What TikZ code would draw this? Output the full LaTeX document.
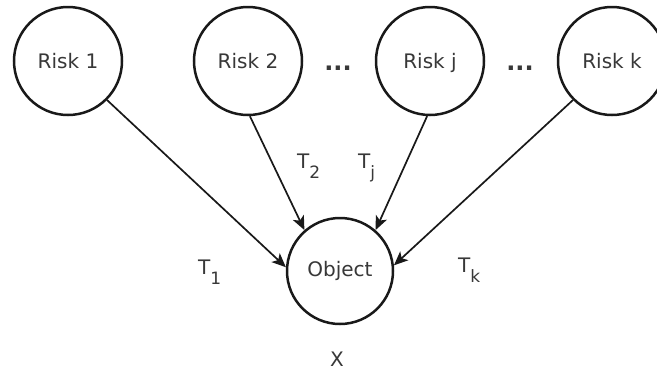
\documentclass[tikz,border=0pt]{standalone}
\usepackage{fontspec}
\setmainfont{DejaVu Sans}
\usetikzlibrary{arrows.meta}
\newcommand\Tsub[1]{T\raisebox{-10pt}{\fontsize{17}{17}\selectfont #1}}
\begin{document}
\begin{tikzpicture}[x=1pt,y=-1pt,
  riskbox/.style={draw=black!90,line width=2.5pt,circle,minimum size=108pt,inner sep=0pt,
    font=\fontsize{20}{24}\selectfont,text=black!78,text height=15pt,text depth=1pt},
  lab/.style={font=\fontsize{20}{24}\selectfont,text=black!78,inner sep=0pt},
  conn/.style={draw=black!90,line width=1.7pt,-{Stealth[length=14pt,width=12pt,inset=3.5pt]}}]
\clip (0,0) rectangle (657,373);
\fill[white] (0,0) rectangle (657,373);
\node[riskbox] (r1) at (68,61) {Risk 1};
\node[riskbox] (r2) at (248,61) {Risk 2};
\node[riskbox] (rj) at (430,61) {Risk j};
\node[riskbox] (rk) at (612,61) {Risk k};
\node[riskbox,minimum size=106pt,text height=,text depth=] (obj) at (340,271) {Object};
\node[lab,anchor=base,font=\fontsize{24}{28}\selectfont\bfseries] (d1) at (338,70) {...};
\node[lab,anchor=base,font=\fontsize{24}{28}\selectfont\bfseries] (d2) at (520,70) {...};
\draw[conn] (r1.-45) -- (obj.176);
\draw[conn] (r2.-88) -- (obj.131);
\draw[conn] (rj.-93) -- (obj.49);
\draw[conn] (rk.-135) -- (obj.6);
\node[lab,anchor=base west] (t2) at (297,168) {\Tsub{2}};
\node[lab,anchor=base west] (tj) at (358,168) {\Tsub{j}};
\node[lab,anchor=base west] (t1) at (198,274) {\Tsub{1}};
\node[lab,anchor=base west] (tk) at (458,272) {\Tsub{k}};
\node[lab,anchor=base] (x) at (337,366) {X};
\end{tikzpicture}
\end{document}
